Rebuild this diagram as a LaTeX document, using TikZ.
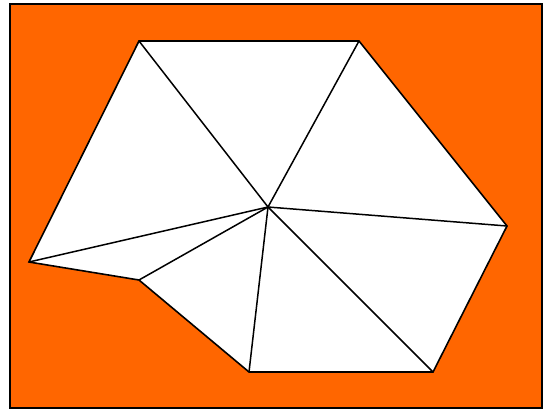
\documentclass[tikz,border=0pt]{standalone}
\usepackage{tikz}
\usetikzlibrary{backgrounds}
\definecolor{fanorange}{RGB}{255,102,0}
\tikzset{
  rim/.style={draw=black, line width=1.6pt},
  spoke/.style={draw=black, line width=1.5pt},
}

\begin{document}
\begin{tikzpicture}[x=1pt, y=-1pt]
    \useasboundingbox (0,0) rectangle (545,410);
    \draw[rim, fill=fanorange] (10,4) rectangle (542,408);
    % hub and outer vertices
    \coordinate (hub) at (268,207);
    \coordinate (topL) at (139,41);
    \coordinate (topR) at (359,41);
    \coordinate (right) at (507,226);
    \coordinate (botR) at (433,372);
    \coordinate (botL) at (249,372);
    \coordinate (notch) at (139,280);
    \coordinate (left) at (29,262);
    \draw[rim, fill=white, line join=miter]
      (topL) -- (topR) -- (right) -- (botR) -- (botL) -- (notch) -- (left) -- cycle;
    \foreach \v in {topL,topR,right,botR,botL,notch,left}
      \draw[spoke] (hub) -- (\v);
  \end{tikzpicture}
\end{document}
